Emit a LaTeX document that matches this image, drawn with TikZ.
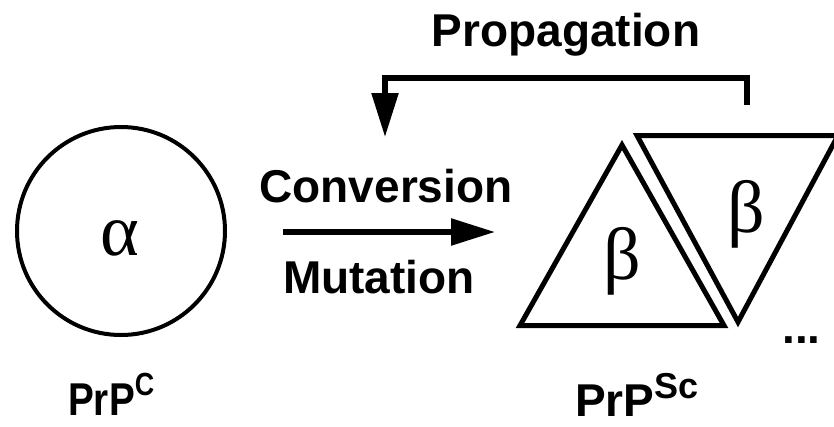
\documentclass[tikz,border=0pt]{standalone}
\usepackage{fontspec}
\setmainfont{Liberation Sans}
\newfontfamily\greekfont{Liberation Serif}
\usetikzlibrary{arrows.meta}

\begin{document}
\begin{tikzpicture}[x=1pt,y=-1pt,
  lbl/.style={font=\fontsize{46}{54}\selectfont\bfseries, anchor=base, inner sep=0pt},
  grk/.style={font=\greekfont\fontsize{74}{80}\selectfont, inner sep=0pt},
  arr/.style={line width=5.5pt, line join=miter, -{Triangle[length=44pt,width=26pt]}},
  shell/.style={line width=5pt, line join=miter}]
\clip (0,0) rectangle (834,426);

% normal form
\node[draw, circle, line width=4pt, minimum size=208pt, inner sep=0pt] (cell) at (121,231) {};
\node[grk, anchor=base] (alpha) at (120,255) {α};
\node[lbl, anchor=base west] (prpc) at (68,415)
  {\scalebox{0.84}[1]{PrP\raisebox{20pt}{\fontsize{32}{32}\selectfont C}}};

% conversion step
\node[lbl] (conv) at (386,202) {Conversion};
\node[lbl] (mut) at (379,293) {Mutation};
\coordinate (cstart) at (283,232);
\coordinate (cend) at (495,232);
\draw[arr] (cstart) -- (cend);

% scrapie form
\draw[shell] (622,145) -- (724,325.5) -- (520,325.5) -- cycle;
\draw[shell] (637,135.5) -- (838,135.5) -- (738,322) -- cycle;
\node[grk] (beta1) at (622,261) {β};
\node[grk] (beta2) at (746,214) {β};
\node[lbl, anchor=base west] (dots) at (782,343) {...};
\node[lbl, anchor=base west] (prpsc) at (575,416)
  {PrP\raisebox{18pt}{\fontsize{36}{36}\selectfont Sc}};

% propagation loop
\node[lbl] (prop) at (566,46) {Propagation};
\coordinate (pstart) at (747,105);
\coordinate (ptop) at (566,78);
\coordinate (pend) at (385,137);
\draw[arr] (pstart) |- (ptop) -| (pend);

\end{tikzpicture}
\end{document}
